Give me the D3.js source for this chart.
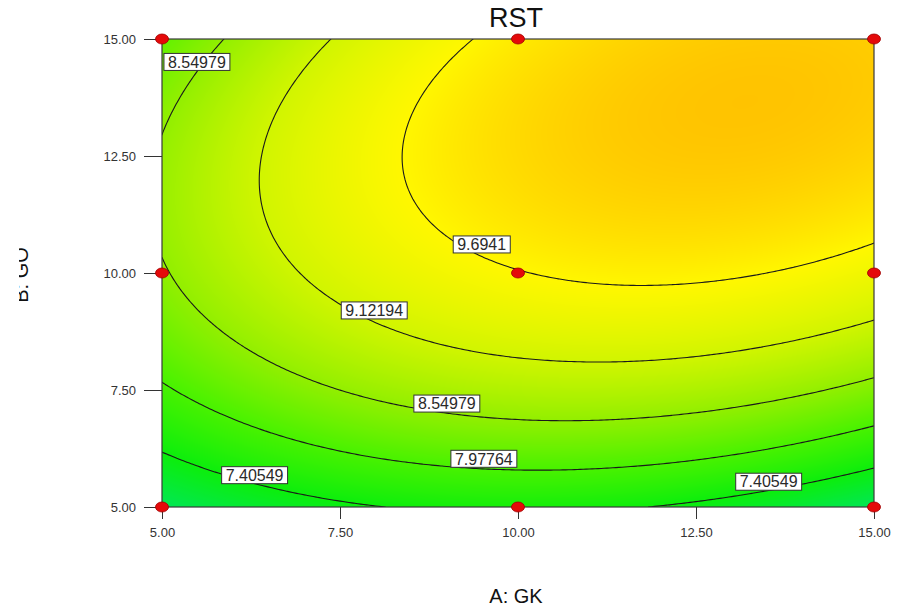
<!DOCTYPE html>
<html>
<head>
<meta charset="utf-8">
<script src="https://cdn.jsdelivr.net/npm/d3@7"></script>
<style>
  html, body { margin: 0; padding: 0; background: #ffffff; }
  svg { display: block; font-family: "Liberation Sans", Arial, sans-serif; }
</style>
</head>
<body>
<svg id="chart" width="901" height="610"></svg>
<script>
// ---- data ----
const chartTitle = "RST";
const xName = "A: GK";
const yName = "B: GO";
const xTicks = [5, 7.5, 10, 12.5, 15];
const yTicks = [5, 7.5, 10, 12.5, 15];

// design points of the 3x3 factorial layout
const designA = [5, 10, 15, 5, 10, 15, 5, 10, 15];
const designB = [5, 5, 5, 10, 10, 10, 15, 15, 15];

// fitted quadratic model, coded units (-1..1): Intercept, A, B, AB, A², B²
const modelTerms = ["Intercept", "A", "B", "AB", "A^2", "B^2"];
const modelCoefs = [9.678, 0.494, 1.166, 0.499, -0.674, -1.014];

// contour levels and where their labels sit (in A/B units)
const contourLevels = [7.40549, 7.97764, 8.54979, 9.12194, 9.6941];
const labelValues = [8.54979, 9.6941, 9.12194, 8.54979, 7.97764, 7.40549, 7.40549];
const labelA = [5.49, 9.49, 7.98, 9.00, 9.52, 6.30, 13.52];
const labelB = [14.51, 10.61, 9.20, 7.21, 6.03, 5.68, 5.54];

// response-to-colour ramp
const colorValues = [6.8, 7.4, 8.0, 8.55, 9.12, 9.69, 10.3];
const colorStops = ["#00e65a", "#0cee0c", "#4af200", "#92ef00", "#d0f500", "#fff700", "#ffc000"];

// ---- layout ----
const svg = d3.select("#chart");
const plot = { left: 162, top: 39, right: 874, bottom: 507 };
const pw = plot.right - plot.left, ph = plot.bottom - plot.top;

const x = d3.scaleLinear().domain([5, 15]).range([plot.left, plot.right]);
const y = d3.scaleLinear().domain([5, 15]).range([plot.bottom, plot.top]);
const color = d3.scaleLinear().domain(colorValues).range(colorStops)
  .interpolate(d3.interpolateRgb).clamp(true);

function response(a, b) {
  const x1 = (a - 10) / 5, x2 = (b - 10) / 5;
  const [b0, b1, b2, b12, b11, b22] = modelCoefs;
  return b0 + b1 * x1 + b2 * x2 + b12 * x1 * x2 + b11 * x1 * x1 + b22 * x2 * x2;
}

// ---- filled surface, rendered to a bitmap ----
const canvas = document.createElement("canvas");
canvas.width = pw; canvas.height = ph;
const ctx = canvas.getContext("2d");
const img = ctx.createImageData(pw, ph);
for (let j = 0; j < ph; j++) {
  const bv = y.invert(plot.top + j + 0.5);
  for (let i = 0; i < pw; i++) {
    const av = x.invert(plot.left + i + 0.5);
    const c = d3.rgb(color(response(av, bv)));
    const k = (j * pw + i) * 4;
    img.data[k] = c.r; img.data[k + 1] = c.g; img.data[k + 2] = c.b; img.data[k + 3] = 255;
  }
}
ctx.putImageData(img, 0, 0);

svg.append("image")
  .attr("x", plot.left).attr("y", plot.top)
  .attr("width", pw).attr("height", ph)
  .attr("preserveAspectRatio", "none")
  .attr("href", canvas.toDataURL());

// ---- contour lines ----
const defs = svg.append("defs");
defs.append("clipPath").attr("id", "plotClip")
  .append("rect").attr("x", plot.left).attr("y", plot.top).attr("width", pw).attr("height", ph);
defs.append("clipPath").attr("id", "ylabClip")
  .append("rect").attr("x", 19).attr("y", 0).attr("width", 200).attr("height", 610);

const n = 241;
const step = 10 / (n - 1);
const grid = new Array(n * n);
for (let j = 0; j < n; j++) {
  for (let i = 0; i < n; i++) {
    grid[j * n + i] = response(5 + i * step, 5 + j * step);
  }
}
const contours = d3.contours().size([n, n]).thresholds(contourLevels)(grid);
const toPix = d3.geoTransform({
  point(px, py) {
    this.stream.point(x(5 + (px - 0.5) * step), y(5 + (py - 0.5) * step));
  }
});
svg.append("g").attr("clip-path", "url(#plotClip)")
  .selectAll("path").data(contours).join("path")
  .attr("d", d3.geoPath(toPix))
  .attr("fill", "none")
  .attr("stroke", "#1a1a1a")
  .attr("stroke-width", 1.1);

// ---- frame and axes ----
svg.append("rect")
  .attr("x", plot.left).attr("y", plot.top).attr("width", pw).attr("height", ph)
  .attr("fill", "none").attr("stroke", "#3a3a3a").attr("stroke-width", 1.2);

const xAxis = svg.append("g").attr("transform", `translate(0,${plot.bottom})`)
  .call(d3.axisBottom(x).tickValues(xTicks).tickFormat(d3.format(".2f"))
    .tickSize(12).tickPadding(9));
const yAxis = svg.append("g").attr("transform", `translate(${plot.left},0)`)
  .call(d3.axisLeft(y).tickValues(yTicks).tickFormat(d3.format(".2f"))
    .tickSize(18).tickPadding(8));
[xAxis, yAxis].forEach(g => {
  g.select(".domain").remove();
  g.selectAll(".tick line").attr("stroke", "#333").attr("stroke-width", 1);
  g.selectAll(".tick text").attr("fill", "#333").attr("font-size", 13)
    .attr("font-family", "'Liberation Sans', Arial, sans-serif");
});

// ---- contour labels ----
const fmt = v => String(v);
const labels = svg.append("g").selectAll("g")
  .data(labelValues.map((v, i) => ({ v, a: labelA[i], b: labelB[i] })))
  .join("g")
  .attr("transform", d => `translate(${x(d.a)},${y(d.b)})`);
labels.append("text")
  .attr("text-anchor", "middle").attr("dy", "0.36em")
  .attr("font-size", 16).attr("fill", "#2a2a2a")
  .text(d => fmt(d.v))
  .each(function () {
    const bb = this.getBBox();
    d3.select(this.parentNode).insert("rect", "text")
      .attr("x", bb.x - 4).attr("y", -8.5)
      .attr("width", bb.width + 8).attr("height", 17)
      .attr("fill", "#ffffff").attr("stroke", "#333").attr("stroke-width", 1);
  });

// ---- design points ----
svg.append("g").selectAll("ellipse")
  .data(designA.map((a, i) => ({ a, b: designB[i] })))
  .join("ellipse")
  .attr("cx", d => x(d.a)).attr("cy", d => y(d.b))
  .attr("rx", 6.5).attr("ry", 5)
  .attr("fill", "#e40a0a").attr("stroke", "#a00000").attr("stroke-width", 0.8);

// ---- titles ----
svg.append("text")
  .attr("x", (plot.left + plot.right) / 2 - 2).attr("y", 27)
  .attr("text-anchor", "middle").attr("font-size", 27).attr("fill", "#111")
  .text(chartTitle);
svg.append("text")
  .attr("x", (plot.left + plot.right) / 2 - 2).attr("y", 603)
  .attr("text-anchor", "middle").attr("font-size", 20).attr("fill", "#111")
  .text(xName);
svg.append("g").attr("clip-path", "url(#ylabClip)")
  .append("text")
  .attr("transform", "translate(28,275) rotate(-90)")
  .attr("text-anchor", "middle").attr("font-size", 20).attr("fill", "#111")
  .text(yName);
</script>
</body>
</html>
